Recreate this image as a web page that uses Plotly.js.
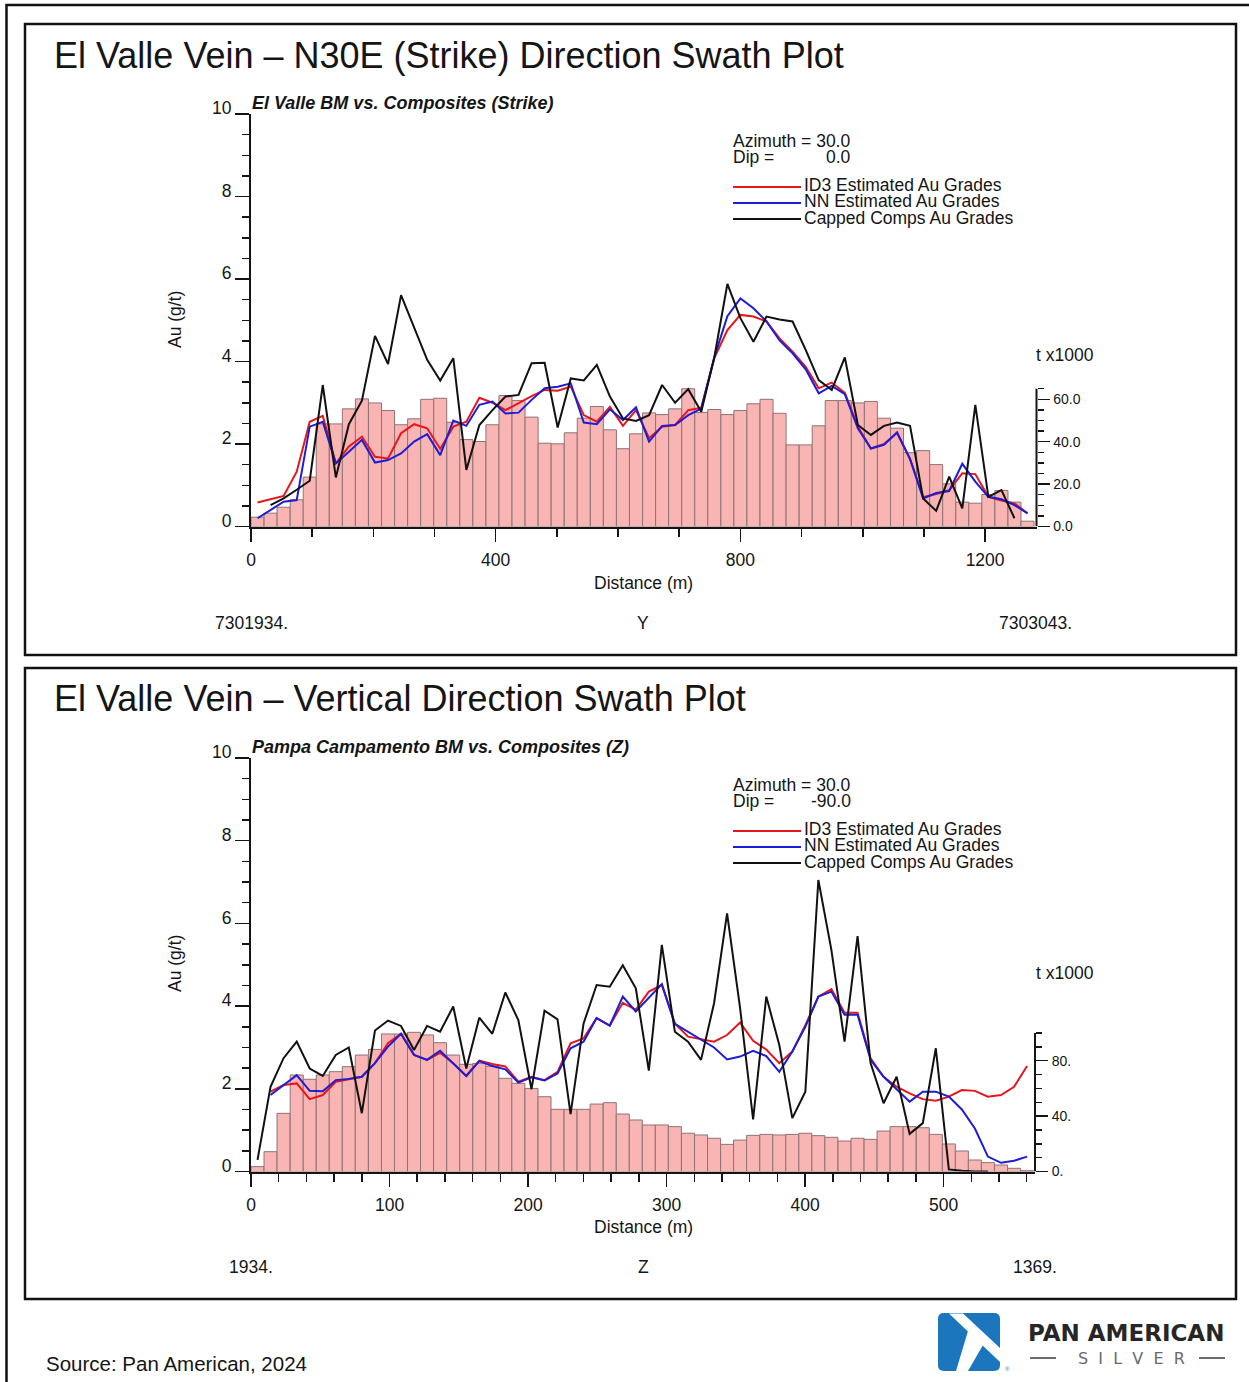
<!DOCTYPE html>
<html>
<head>
<meta charset="utf-8">
<script src="https://cdn.plot.ly/plotly-3.0.1.min.js"></script>
<style>
  html, body { margin: 0; padding: 0; background: #ffffff; }
  #chart { width: 1249px; height: 1382px; }
</style>
</head>
<body>
<div id="chart"></div>
<script>
// ---------- Strike (N30E) swath: bin centres along strike (m) ----------
const strikeDist = [10.7, 32.0, 53.3, 74.7, 96.0, 117.3, 138.7, 160.0, 181.3, 202.7,
  224.0, 245.3, 266.7, 288.0, 309.3, 330.7, 352.0, 373.3, 394.7, 416.0,
  437.3, 458.7, 480.0, 501.3, 522.7, 544.0, 565.3, 586.7, 608.0, 629.3,
  650.7, 672.0, 693.3, 714.7, 736.0, 757.3, 778.7, 800.0, 821.3, 842.7,
  864.0, 885.3, 906.7, 928.0, 949.3, 970.7, 992.0, 1013.3, 1034.7, 1056.0,
  1077.3, 1098.7, 1120.0, 1141.3, 1162.7, 1184.0, 1205.3, 1226.7, 1248.0, 1269.3];
// tonnage per swath bin (t x1000)
const strikeTonnes = [4.4, 6.3, 9.1, 12.6, 23.3, 48.4, 48.4, 55.5, 60.2, 58.3,
  54.7, 48.0, 50.8, 60.0, 60.5, 49.2, 41.0, 40.1, 48.0, 61.8,
  59.4, 51.6, 39.3, 39.0, 44.2, 51.1, 56.6, 45.6, 36.7, 43.7,
  53.6, 52.8, 55.5, 65.0, 53.8, 55.2, 52.8, 54.7, 57.9, 60.0,
  53.4, 38.5, 38.5, 47.5, 59.4, 59.4, 58.3, 59.0, 51.1, 46.4,
  34.8, 35.8, 29.2, 20.1, 11.5, 11.0, 15.1, 17.0, 11.5, 2.5];
// Au grades (g/t)
const strikeID3 = [0.58, 0.66, 0.74, 1.33, 2.54, 2.68, 1.53, 1.94, 2.18, 1.69,
  1.65, 2.26, 2.48, 2.38, 1.88, 2.42, 2.54, 3.12, 3.00, 2.82,
  2.99, 3.16, 3.31, 3.29, 3.39, 2.70, 2.54, 2.90, 2.44, 2.82,
  2.14, 2.42, 2.46, 2.82, 2.88, 4.08, 4.76, 5.13, 5.09, 4.97,
  4.56, 4.24, 3.87, 3.35, 3.49, 3.24, 2.42, 1.89, 2.00, 2.27,
  1.63, 0.71, 0.79, 0.88, 1.29, 1.27, 0.72, 0.63, 0.56, 0.32];
const strikeNN = [0.20, 0.40, 0.60, 0.64, 2.42, 2.54, 1.53, 1.81, 2.10, 1.55,
  1.61, 1.77, 2.06, 2.24, 1.73, 2.57, 2.44, 2.95, 3.03, 2.74,
  2.76, 3.07, 3.35, 3.39, 3.47, 2.52, 2.48, 2.84, 2.58, 2.89,
  2.06, 2.44, 2.46, 2.70, 2.86, 4.10, 5.10, 5.53, 5.29, 4.97,
  4.51, 4.20, 3.81, 3.23, 3.41, 3.21, 2.38, 1.89, 1.98, 2.28,
  1.64, 0.68, 0.81, 0.86, 1.52, 1.09, 0.72, 0.66, 0.52, 0.32];
const strikeCapped = [null, 0.52, 0.68, 0.89, 1.11, 3.43, 1.19, 2.48, 3.05, 4.62,
  3.94, 5.61, 4.82, 4.04, 3.54, 4.08, 1.37, 2.46, 2.82, 3.15,
  3.19, 3.96, 3.97, 2.40, 3.59, 3.54, 3.92, 3.15, 2.62, 2.56,
  2.70, 3.43, 3.00, 3.33, 2.78, 4.10, 5.88, 5.05, 4.48, 5.09,
  5.02, 4.97, 4.28, 3.55, 3.31, 4.10, 2.46, 2.22, 2.44, 2.52,
  2.44, 0.68, 0.38, 1.21, 0.44, 2.95, 0.72, 0.88, 0.20, null];

// ---------- Vertical (Z) swath: bin centres down-dip (m) ----------
const dipDist = [4.7, 14.1, 23.5, 33.0, 42.4, 51.8, 61.2, 70.6, 80.0, 89.5,
  98.9, 108.3, 117.7, 127.1, 136.5, 146.0, 155.4, 164.8, 174.2, 183.6,
  193.0, 202.5, 211.9, 221.3, 230.7, 240.1, 249.5, 259.0, 268.4, 277.8,
  287.2, 296.6, 306.0, 315.5, 324.9, 334.3, 343.7, 353.1, 362.5, 372.0,
  381.4, 390.8, 400.2, 409.6, 419.0, 428.5, 437.9, 447.3, 456.7, 466.1,
  475.5, 485.0, 494.4, 503.8, 513.2, 522.6, 532.0, 541.5, 550.9, 560.3];
const dipTonnes = [3.5, 14.3, 42.0, 69.7, 66.6, 69.7, 72.1, 75.7, 84.1, 88.2,
  99.3, 99.3, 100.5, 98.6, 93.0, 84.1, 77.4, 78.1, 76.0, 67.3,
  63.7, 60.0, 54.0, 44.9, 44.9, 44.9, 48.7, 49.7, 41.5, 37.2,
  33.6, 33.6, 32.4, 27.6, 26.4, 24.0, 19.6, 22.7, 26.1, 26.8,
  26.4, 26.8, 27.6, 25.9, 24.7, 22.0, 24.0, 23.2, 29.2, 32.4,
  32.4, 31.6, 26.8, 19.9, 14.8, 8.3, 6.4, 4.7, 2.3, 0.6];
const dipID3 = [null, 1.93, 2.09, 2.13, 1.75, 1.85, 2.17, 2.23, 2.29, 2.62,
  3.10, 3.33, 2.82, 2.70, 2.87, 2.62, 2.31, 2.68, 2.60, 2.54,
  2.17, 2.29, 2.21, 2.41, 3.10, 3.22, 3.71, 3.53, 4.08, 3.91,
  4.35, 4.51, 3.58, 3.26, 3.20, 3.14, 3.30, 3.60, 3.16, 2.95,
  2.62, 2.90, 3.54, 4.23, 4.41, 3.84, 3.84, 2.74, 2.29, 2.05,
  1.89, 1.75, 1.71, 1.81, 1.97, 1.95, 1.81, 1.85, 2.05, 2.55];
const dipNN = [null, 1.85, 2.09, 2.33, 1.95, 1.94, 2.21, 2.24, 2.29, 2.62,
  3.02, 3.33, 2.82, 2.70, 2.92, 2.62, 2.31, 2.67, 2.55, 2.47,
  2.15, 2.28, 2.20, 2.37, 2.98, 3.14, 3.71, 3.53, 4.23, 3.87,
  4.19, 4.53, 3.57, 3.38, 3.20, 3.00, 2.71, 2.78, 2.92, 2.79,
  2.41, 2.90, 3.50, 4.23, 4.35, 3.79, 3.79, 2.70, 2.29, 1.99,
  1.69, 1.93, 1.93, 1.81, 1.50, 1.04, 0.36, 0.21, 0.26, 0.36];
const dipCapped = [0.28, 2.05, 2.74, 3.14, 2.49, 2.31, 2.82, 3.00, 1.41, 3.41,
  3.65, 3.52, 2.94, 3.52, 3.38, 3.99, 2.49, 3.72, 3.33, 4.33,
  3.66, 1.99, 3.89, 3.68, 1.39, 3.58, 4.51, 4.47, 4.99, 4.43,
  2.44, 5.48, 3.38, 3.14, 2.70, 4.07, 6.24, 3.95, 1.26, 4.23,
  3.06, 1.29, 1.93, 7.05, 5.36, 3.14, 5.69, 2.62, 1.65, 2.29,
  0.91, 1.17, 2.98, 0.05, 0.02, 0.0, 0.0, null, null, null];

// axis tick labels
const strikeTicks = [0, 400, 800, 1200];
const dipTicks = [0, 100, 200, 300, 400, 500];
const gradeTicks = [0, 2, 4, 6, 8, 10];
const strikeTonTicks = [0, 20, 40, 60];
const strikeTonText = ['0.0', '20.0', '40.0', '60.0'];
const dipTonTicks = [0, 40, 80];
const dipTonText = ['0.', '40.', '80.'];

const seriesNames = ['ID3 Estimated Au Grades', 'NN Estimated Au Grades', 'Capped Comps Au Grades'];

// ---------- styling ----------
const FONT = 'Liberation Sans, Arial, Helvetica, sans-serif';
const INK = '#151515';
const RED = '#e8161b';
const BLUE = '#1d1dd8';
const BLACK = '#111111';
const BAR = '#f9b4b4';
const BAR_EDGE = '#8f7373';
const W = 1249, H = 1382;
const px = x => x / W;
const py = y => 1 - y / H;

function lineTrace(x, y, color, xa, ya) {
  return { type: 'scatter', mode: 'lines', x: x, y: y, xaxis: xa, yaxis: ya,
    line: { color: color, width: 2 }, connectgaps: false, hoverinfo: 'skip', showlegend: false };
}
function barTrace(x, y, xa, ya) {
  return { type: 'bar', x: x, y: y, xaxis: xa, yaxis: ya, width: x[1] - x[0],
    marker: { color: BAR, line: { color: BAR_EDGE, width: 1 } }, hoverinfo: 'skip', showlegend: false };
}

const data = [
  barTrace(strikeDist, strikeTonnes, 'x', 'y'),
  lineTrace(strikeDist, strikeID3, RED, 'x', 'y2'),
  lineTrace(strikeDist, strikeNN, BLUE, 'x', 'y2'),
  lineTrace(strikeDist, strikeCapped, BLACK, 'x', 'y2'),
  barTrace(dipDist, dipTonnes, 'x2', 'y3'),
  lineTrace(dipDist, dipID3, RED, 'x2', 'y4'),
  lineTrace(dipDist, dipNN, BLUE, 'x2', 'y4'),
  lineTrace(dipDist, dipCapped, BLACK, 'x2', 'y4')
];

const tickStyle = { ticks: 'outside', tickwidth: 1.5, tickcolor: INK, showgrid: false, zeroline: false };

function distAxis(domain, range, vals, minorStep, anchor) {
  return Object.assign({}, tickStyle, {
    domain: domain, range: range, anchor: anchor, tickvals: vals, ticklen: 13,
    showline: true, linewidth: 2, linecolor: INK, ticklabelstandoff: 3,
    tickfont: { family: FONT, size: 17.5, color: INK },
    minor: { dtick: minorStep, tick0: 0, ticks: 'outside', ticklen: 8, tickwidth: 1.5, tickcolor: INK, showgrid: false }
  });
}
function gradeAxis(over, anchor) {
  return Object.assign({}, tickStyle, {
    overlaying: over, anchor: anchor, side: 'left', range: [0, 10], tickvals: gradeTicks, ticklen: 14,
    showline: true, linewidth: 2, linecolor: INK, ticklabelshift: -6,
    tickfont: { family: FONT, size: 17.5, color: INK },
    minor: { dtick: 0.5, tick0: 0, ticks: 'outside', ticklen: 7, tickwidth: 1.5, tickcolor: INK, showgrid: false }
  });
}
function tonAxis(domain, top, vals, text, minorVals, anchor) {
  return Object.assign({}, tickStyle, {
    domain: domain, range: [0, top], anchor: anchor, side: 'right', tickvals: vals, ticktext: text,
    ticklen: 12, showline: false, ticklabelstandoff: 1,
    tickfont: { family: FONT, size: 14, color: INK },
    minor: { tickmode: 'array', tickvals: minorVals, ticks: 'outside', ticklen: 6, tickwidth: 1.5, tickcolor: INK, showgrid: false }
  });
}

function note(text, x, y, size, opts) {
  return Object.assign({ text: text, xref: 'paper', yref: 'paper', x: px(x), y: py(y),
    xanchor: 'left', yanchor: 'middle', showarrow: false, borderpad: 0,
    font: { family: FONT, size: size, color: INK } }, opts || {});
}

function panelNotes(dy, title, subtitle, dipText, lastLabel, firstLabel, dirLabel, tx) {
  return [
    note(title, 53, 55 + dy, 36),
    note('<b><i>' + subtitle + '</i></b>', 251, 103 + dy, 18),
    note('Azimuth = 30.0', 732, 141 + dy, 17.5),
    note('Dip =', 732, 157 + dy, 17.5),
    note(dipText, 852, 157 + dy, 17.5, { xanchor: 'right' }),
    note(seriesNames[0], 803, 185 + dy, 17.5),
    note(seriesNames[1], 803, 201 + dy, 17.5),
    note(seriesNames[2], 803, 218 + dy, 17.5),
    note('Au (g/t)', 175, 320 + dy, 17.5, { xanchor: 'center', textangle: -90 }),
    note('t x1000', 1065, tx, 17.5, { xanchor: 'center' }),
    note('Distance (m)', 643, 583 + dy, 17.5, { xanchor: 'center' }),
    note(firstLabel, 251, 623 + dy, 17.5, { xanchor: 'center' }),
    note(dirLabel, 643, 623 + dy, 17.5, { xanchor: 'center' }),
    note(lastLabel, 1035, 623 + dy, 17.5, { xanchor: 'center' })
  ];
}

function seg(x0, y0, x1, y1, color, width) {
  return { type: 'line', xref: 'paper', yref: 'paper', x0: px(x0), y0: py(y0), x1: px(x1), y1: py(y1),
    line: { color: color, width: width } };
}
function box(x0, y0, x1, y1, width) {
  return { type: 'rect', xref: 'paper', yref: 'paper', x0: px(x0), y0: py(y1), x1: px(x1), y1: py(y0),
    line: { color: '#111', width: width }, fillcolor: 'rgba(0,0,0,0)' };
}
function poly(points, fill) {
  const d = 'M' + points.map(p => px(p[0]).toFixed(5) + ',' + py(p[1]).toFixed(5)).join('L') + 'Z';
  return { type: 'path', xref: 'paper', yref: 'paper', path: d, fillcolor: fill, line: { width: 0 } };
}
function roundRect(x0, y0, x1, y1, r, fill) {
  const P = (x, y) => px(x).toFixed(5) + ',' + py(y).toFixed(5);
  const d = 'M' + P(x0 + r, y0) + 'L' + P(x1 - r, y0) + 'Q' + P(x1, y0) + ' ' + P(x1, y0 + r) +
    'L' + P(x1, y1 - r) + 'Q' + P(x1, y1) + ' ' + P(x1 - r, y1) +
    'L' + P(x0 + r, y1) + 'Q' + P(x0, y1) + ' ' + P(x0, y1 - r) +
    'L' + P(x0, y0 + r) + 'Q' + P(x0, y0) + ' ' + P(x0 + r, y0) + 'Z';
  return { type: 'path', xref: 'paper', yref: 'paper', path: d, fillcolor: fill, line: { width: 0 } };
}

const shapes = [
  // page and panel frames
  box(6.5, 5, 1260, 1395, 2.5),
  box(25, 24, 1236, 655, 2.5),
  box(25, 668, 1236, 1299, 2.5),
  // short right-hand tonnage axes
  { type: 'line', xref: 'x domain', yref: 'y', x0: 1, x1: 1, y0: 0, y1: 65, line: { color: INK, width: 2 } },
  { type: 'line', xref: 'x2 domain', yref: 'y3', x0: 1, x1: 1, y0: 0, y1: 100, line: { color: INK, width: 2 } },
  // legend samples
  seg(733, 187, 801, 187, RED, 2), seg(733, 203, 801, 203, BLUE, 2), seg(733, 219, 801, 219, BLACK, 2),
  seg(733, 831, 801, 831, RED, 2), seg(733, 847, 801, 847, BLUE, 2), seg(733, 863, 801, 863, BLACK, 2),
  // company mark
  roundRect(938, 1313, 1000, 1371, 6, '#1b76bd'),
  poly([[949, 1313.5], [963, 1313.5], [1000, 1348], [1000, 1362]], '#ffffff'),
  poly([[968, 1331], [983, 1345], [968, 1371], [956, 1371]], '#ffffff'),
  seg(1030, 1358, 1056, 1358, '#6d6d6d', 2),
  seg(1199, 1358, 1225, 1358, '#6d6d6d', 2)
];

const annotations = [].concat(
  panelNotes(0, 'El Valle Vein – N30E (Strike) Direction Swath Plot', 'El Valle BM vs. Composites (Strike)',
    '0.0', '7303043.', '7301934.', 'Y', 355),
  panelNotes(644, 'El Valle Vein – Vertical Direction Swath Plot', 'Pampa Campamento BM vs. Composites (Z)',
    '-90.0', '1369.', '1934.', 'Z', 973),
  [
    note('Source: Pan American, 2024', 45, 1363, 20.5),
    note('<b>PAN AMERICAN</b>', 1126, 1333, 23, { xanchor: 'center', font: { family: 'DejaVu Sans, sans-serif', size: 23, color: '#262626' } }),
    note('S  I  L  V  E  R', 1131, 1358, 16, { xanchor: 'center', font: { family: 'DejaVu Sans, sans-serif', size: 16, color: '#6a6a6a' } }),
    note('®', 1004, 1369, 6, { font: { family: FONT, size: 6, color: '#1b76bd' } })
  ]
);

const layout = {
  width: W, height: H,
  margin: { l: 0, r: 0, t: 0, b: 0, pad: 0 },
  paper_bgcolor: '#ffffff', plot_bgcolor: 'rgba(0,0,0,0)',
  font: { family: FONT, color: INK },
  showlegend: false, bargap: 0,
  xaxis: distAxis([px(251), px(1036.5)], [0, 1284], strikeTicks, 100, 'y'),
  yaxis: tonAxis([py(526.5), py(114)], 194.6, strikeTonTicks, strikeTonText,
    [5, 10, 15, 25, 30, 35, 45, 50, 55, 65], 'x'),
  yaxis2: gradeAxis('y', 'x'),
  xaxis2: distAxis([px(251), px(1035)], [0, 566], dipTicks, 20, 'y3'),
  yaxis3: tonAxis([py(1171.5), py(758)], 298.6, dipTonTicks, dipTonText,
    [10, 20, 30, 50, 60, 70, 90, 100], 'x2'),
  yaxis4: gradeAxis('y3', 'x2'),
  shapes: shapes,
  annotations: annotations
};

Plotly.newPlot('chart', data, layout, { staticPlot: true, displayModeBar: false });
</script>
</body>
</html>
